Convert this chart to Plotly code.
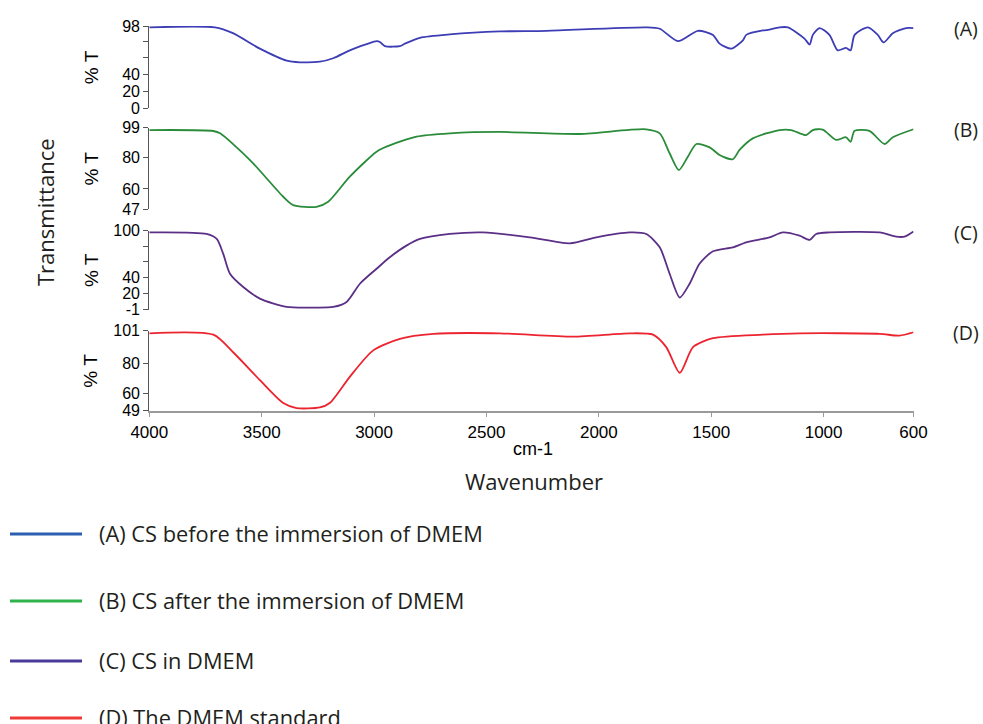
import plotly.graph_objects as go

# ---------------- data ----------------
wn_a = [4000, 3708, 3628, 3508, 3389, 3330, 3241, 3182, 3108, 3033, 2989, 2974, 2952, 2885, 2863,
        2796, 2663, 2441, 2233, 1789, 1729, 1648, 1559, 1492, 1463, 1410, 1359, 1344, 1270, 1255,
        1196, 1159, 1085, 1062, 1048, 1018, 974, 937, 900, 880, 862, 803, 759, 733, 692, 633, 600]
t_a = [96.4, 96.4, 89.5, 71, 56.7, 54.8, 55.5, 59.6, 69, 76.3, 80, 79, 74, 74, 77,
       84, 88, 91.5, 92.3, 96.4, 94.7, 80, 92.3, 87.4, 77, 71, 81, 87.4, 92.7, 93,
       96.4, 96.4, 83, 75.9, 87.4, 95.5, 87.4, 69, 72, 69, 87.4, 96.4, 87.4, 78.4, 89.4, 95.5, 95.5]

wn_b = [4000, 3715, 3685, 3552, 3404, 3360, 3256, 3204, 3108, 2989, 2945, 2811, 2663, 2441, 2085,
        1789, 1729, 1685, 1644, 1604, 1566, 1507, 1463, 1404, 1374, 1315, 1196, 1144, 1078, 1048,
        1004, 944, 900, 880, 862, 796, 729, 692, 600]
t_b = [97.5, 96.9, 95.4, 78.4, 55, 49.7, 48.6, 51.8, 67.8, 83.7, 86.9, 93.3, 95.4, 96.3, 95,
       98, 95.4, 82.7, 72, 80.5, 88.6, 86.5, 81.6, 78.9, 84.8, 92.2, 97.5, 97.5, 94.3, 97.5,
       97.8, 91.2, 92.9, 90, 97, 97, 88.6, 92.9, 98]

wn_c = [4000, 3745, 3700, 3671, 3641, 3582, 3508, 3389, 3256, 3182, 3122, 3063, 2989, 2930, 2856,
        2796, 2663, 2515, 2307, 2129, 2011, 1863, 1789, 1729, 1685, 1640, 1596, 1552, 1492, 1404,
        1344, 1240, 1181, 1107, 1062, 1033, 974, 751, 677, 640, 600]
t_c = [97.8, 95.8, 89.4, 70.3, 44.8, 27.8, 13, 2.3, 1.5, 2.3, 8.7, 32, 51.2, 66, 80.9,
       89.4, 95.8, 97.8, 91.5, 83.8, 91.5, 97.8, 95.8, 78.7, 44.8, 14.3, 32, 57.6, 73.6, 78.7,
       85.1, 91.5, 97.8, 93.6, 88.2, 95.8, 97.8, 97.8, 92.4, 92.4, 99]

wn_d = [4000, 3715, 3627, 3508, 3404, 3345, 3241, 3197, 3108, 3004, 2885, 2736, 2441, 2114, 1863,
        1759, 1700, 1640, 1581, 1492, 1270, 1107, 751, 663, 600]
t_d = [99.3, 98.4, 87, 68.9, 54, 50.7, 51.1, 54, 71, 88.2, 95.7, 98.9, 99.3, 97.1, 99.3,
       98.4, 90.3, 73.6, 90.3, 96.1, 98.4, 99.3, 99, 97.8, 100]

x_ticks = [4000, 3500, 3000, 2500, 2000, 1500, 1000, 600]
panel_tags = ["(A)", "(B)", "(C)", "(D)"]
legend_names = ["(A) CS before the immersion of DMEM",
                "(B) CS after the immersion of DMEM",
                "(C) CS in DMEM",
                "(D) The DMEM standard"]
y_ranges = [[0, 98], [47, 99], [-1, 100], [49, 101]]
y_tickvals = [[0, 20, 40, 60, 80, 98], [47, 60, 80, 99], [-1, 20, 40, 60, 80, 100], [49, 60, 80, 101]]
y_ticktext = [["0", "20", "40", "", "", "98"], ["47", "60", "80", "99"],
              ["-1", "20", "40", "", "", "100"], ["49", "60", "80", "101"]]

# ---------------- styling / layout ----------------
W, H = 983, 724
trace_colors = ["#3d3db5", "#2a8c3a", "#5b2f86", "#ec2430"]
legend_colors = ["#2b5fb0", "#2fb34a", "#4a3a9a", "#ef3b36"]
panel_px = [(26, 108.3), (127.7, 209.3), (230.7, 309.5), (330.7, 410.7)]  # top, bottom in px
x_left_px, x_right_px = 149.3, 913.5
x_axis_gray = "#9a9a9a"
y_axis_gray = "#555555"
tick_font = dict(family="Liberation Sans Narrow, Arial Narrow, Liberation Sans, Arial", size=16, color="#000000")
text_font = "Open Sans, Noto Sans, sans-serif"
text_color = "#231f20"


def py(p):
    return 1 - p / H


def px(p):
    return p / W


fig = go.Figure()
series = [(wn_a, t_a), (wn_b, t_b), (wn_c, t_c), (wn_d, t_d)]
for i, (wx, ty) in enumerate(series):
    yname = "y" if i == 0 else f"y{i + 1}"
    fig.add_trace(go.Scatter(x=wx, y=ty, mode="lines", xaxis="x", yaxis=yname,
                             line=dict(color=trace_colors[i], width=1.8, shape="spline", smoothing=0.7),
                             name=legend_names[i], showlegend=False, hoverinfo="x+y"))

layout = dict(
    width=W, height=H, margin=dict(l=0, r=0, t=0, b=0, autoexpand=False),
    paper_bgcolor="white", plot_bgcolor="white", showlegend=False,
    xaxis=dict(domain=[px(x_left_px), px(x_right_px)], range=[4000, 600], anchor="y4",
               tickvals=x_ticks, ticktext=[str(v) for v in x_ticks], automargin=False,
               showline=True, linecolor=x_axis_gray, linewidth=1.5,
               ticks="outside", ticklen=5, tickcolor=x_axis_gray, tickfont=tick_font | dict(size=17),
               showgrid=False, zeroline=False),
)
for i in range(4):
    key = "yaxis" if i == 0 else f"yaxis{i + 1}"
    top, bot = panel_px[i]
    layout[key] = dict(domain=[py(bot), py(top)], range=y_ranges[i], anchor="x", automargin=False,
                       tickvals=y_tickvals[i], ticktext=y_ticktext[i],
                       showline=True, linecolor=y_axis_gray, linewidth=1.2,
                       ticks="outside", ticklen=5, tickcolor=y_axis_gray, tickfont=tick_font,
                       showgrid=False, zeroline=False)
fig.update_layout(**layout)

ann = []
shapes = []


def note(text, x, y, font, **kw):
    d = dict(text=text, x=px(x), y=py(y), xref="paper", yref="paper", showarrow=False,
             xanchor="center", yanchor="middle", font=font)
    d.update(kw)
    ann.append(d)


for i in range(4):
    top, bot = panel_px[i]
    note("% T", 91, (top + bot) / 2, dict(family="Liberation Sans, Arial", size=19, color="#000000"),
         textangle=-90)
    note(panel_tags[i], 966, top + 2, dict(family=text_font, size=19.5, color=text_color))

note("Transmittance", 45, 212, dict(family=text_font, size=22, color=text_color), textangle=-90)
note("cm-1", 533, 449, tick_font | dict(size=18))
note("Wavenumber", 534, 481, dict(family=text_font, size=22, color=text_color))

legend_y = [534, 601, 661, 718]
for i in range(4):
    shapes.append(dict(type="line", xref="paper", yref="paper",
                       x0=px(10), x1=px(82), y0=py(legend_y[i]), y1=py(legend_y[i]),
                       line=dict(color=legend_colors[i], width=3)))
    note(legend_names[i], 97, legend_y[i] - 1, dict(family=text_font, size=21.8, color=text_color),
         xanchor="left")

fig.update_layout(annotations=ann, shapes=shapes)
fig.write_html("out.html")
